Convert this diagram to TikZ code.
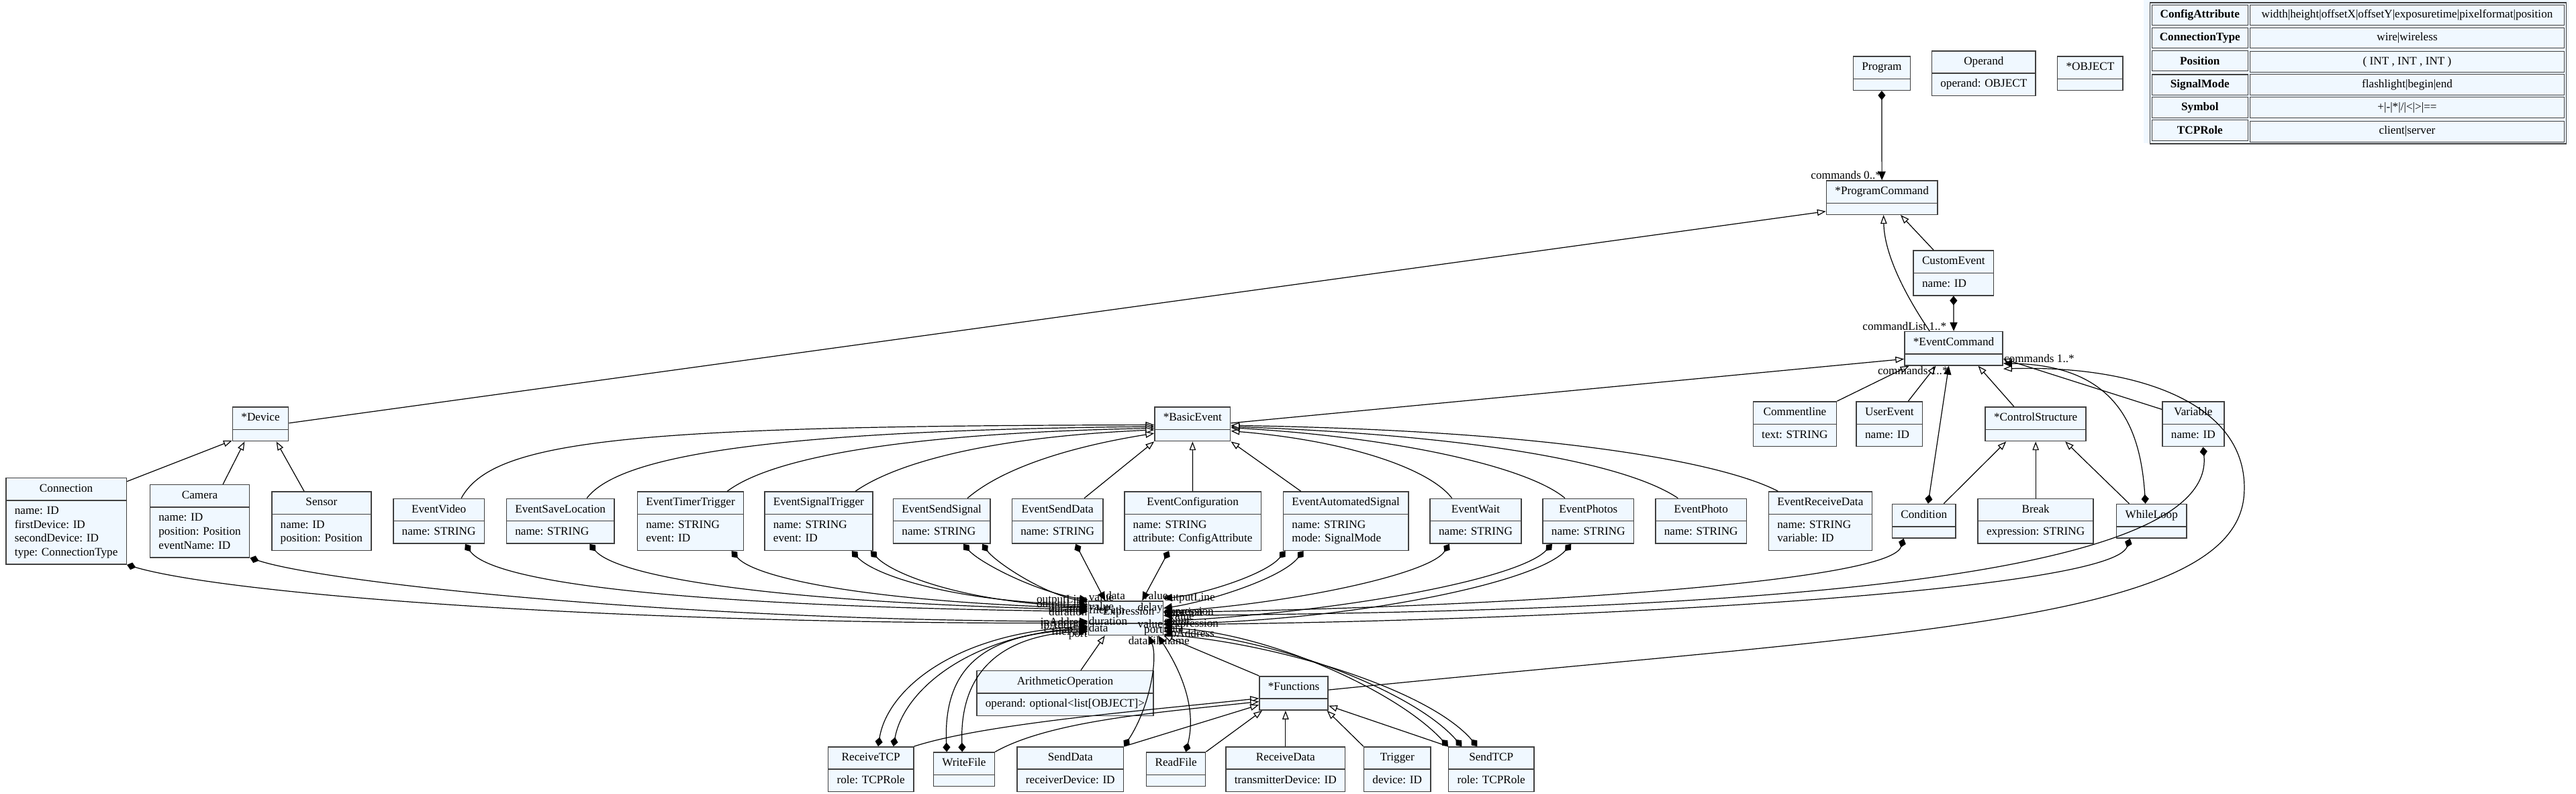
\documentclass[tikz,border=0pt]{standalone}
\usepackage{fontspec}
\setmainfont{Liberation Serif}
\usetikzlibrary{shapes,arrows.meta,positioning,calc,matrix}

\definecolor{clsfill}{HTML}{F0F8FF}
\newcommand{\umlcls}[2]{\strut #1\nodepart{two}\begin{tabular}{@{}l@{}}#2\end{tabular}}

\begin{document}
\begin{tikzpicture}[x=0.05cm, y=-0.05cm, font=\fontsize{10}{12}\selectfont,
    cls/.style={rectangle split, rectangle split parts=2, draw=black!75, line width=0.9pt, fill=clsfill,
        inner xsep=7.5pt, inner ysep=3.25pt, rectangle split part align={center,left}},
    inh/.style={line width=0.7pt, -{Triangle[length=7.5pt,width=5.5pt,fill=white]}},
    comp/.style={line width=0.7pt, {Diamond[length=8pt,width=6.5pt]}-{Triangle[length=7.5pt,width=6.5pt]}},
    lbl/.style={inner sep=0.3pt}]
    \useasboundingbox (0,0) rectangle (1568,483);

    % Enumerations
    \fill[clsfill] (1304.7,0) rectangle (1563.4,87.2);
    \matrix (enums) at (1435.3,44.6) [matrix of nodes, draw=black!75, line width=0.9pt, inner sep=1.5pt,
        row sep=1.5pt, column sep=1.5pt,
        nodes={draw=black!75, line width=0.6pt, minimum height=0.62cm, inner xsep=2pt, inner ysep=0pt},
        column 1/.style={nodes={minimum width=2.92cm, font=\fontsize{10}{12}\selectfont\bfseries}},
        column 2/.style={nodes={minimum width=9.55cm}}] {
        ConfigAttribute & width|height|offsetX|offsetY|exposuretime|pixelformat|position \\
        ConnectionType & wire|wireless \\
        Position & ( INT , INT , INT ) \\
        SignalMode & flashlight|begin|end \\
        Symbol & +|-|*|/|<|>|== \\
        TCPRole & client|server \\
    };

    % Program level
    \node[cls] (program) at (1145.4,44.6) {\umlcls{Program}{}};
    \node[cls] (operand) at (1207.5,44.6) {\umlcls{Operand}{operand: OBJECT}};
    \node[cls] (object) at (1272.3,44.6) {\umlcls{*OBJECT}{}};
    \node[cls] (progcmd) at (1145.5,120.2) {\umlcls{*ProgramCommand}{}};
    \node[cls] (customevent) at (1189.1,166.1) {\umlcls{CustomEvent}{name: ID}};
    \node[cls] (eventcmd) at (1189.2,212) {\umlcls{*EventCommand}{}};

    % Abstract row
    \node[cls] (device) at (158.6,258) {\umlcls{*Device}{}};
    \node[cls] (basicevent) at (725.9,258) {\umlcls{*BasicEvent}{}};
    \node[cls] (commentline) at (1092.5,258) {\umlcls{Commentline}{text: STRING}};
    \node[cls] (userevent) at (1150.1,258) {\umlcls{UserEvent}{name: ID}};
    \node[cls] (ctrlstruct) at (1239.1,258) {\umlcls{*ControlStructure}{}};
    \node[cls] (variable) at (1335,258) {\umlcls{Variable}{name: ID}};

    % Devices and events
    \node[cls] (connection) at (40.3,317) {\umlcls{Connection}{name: ID\\firstDevice: ID\\secondDevice: ID\\type: ConnectionType}};
    \node[cls] (camera) at (121.6,317) {\umlcls{Camera}{name: ID\\position: Position\\eventName: ID}};
    \node[cls] (sensor) at (195.7,317) {\umlcls{Sensor}{name: ID\\position: Position}};
    \node[cls] (evvideo) at (267.1,317) {\umlcls{EventVideo}{name: STRING}};
    \node[cls] (evsaveloc) at (341.1,317) {\umlcls{EventSaveLocation}{name: STRING}};
    \node[cls] (evtimer) at (420.3,317) {\umlcls{EventTimerTrigger}{name: STRING\\event: ID}};
    \node[cls] (evsigtrig) at (498.3,317) {\umlcls{EventSignalTrigger}{name: STRING\\event: ID}};
    \node[cls] (evsendsig) at (573.2,317) {\umlcls{EventSendSignal}{name: STRING}};
    \node[cls] (evsenddata) at (643.7,317) {\umlcls{EventSendData}{name: STRING}};
    \node[cls] (evconfig) at (726,317) {\umlcls{EventConfiguration}{name: STRING\\attribute: ConfigAttribute}};
    \node[cls] (evautosig) at (819.2,317) {\umlcls{EventAutomatedSignal}{name: STRING\\mode: SignalMode}};
    \node[cls] (evwait) at (898.2,317) {\umlcls{EventWait}{name: STRING}};
    \node[cls] (evphotos) at (966.8,317) {\umlcls{EventPhotos}{name: STRING}};
    \node[cls] (evphoto) at (1035.4,317) {\umlcls{EventPhoto}{name: STRING}};
    \node[cls] (evrecvdata) at (1108,317) {\umlcls{EventReceiveData}{name: STRING\\variable: ID}};
    \node[cls] (condition) at (1171.1,317) {\umlcls{Condition}{}};
    \node[cls] (break) at (1239.1,317) {\umlcls{Break}{expression: STRING}};
    \node[cls] (whileloop) at (1309.6,317) {\umlcls{WhileLoop}{}};

    % Expressions and functions
    \node[cls] (expression) at (685.25,376) {\umlcls{*Expression}{}};
    \node[cls] (arithop) at (648.3,421.7) {\umlcls{ArithmeticOperation}{operand: optional<list[OBJECT]>}};
    \node[cls] (functions) at (787.5,421.7) {\umlcls{*Functions}{}};
    \node[cls] (recvtcp) at (530.1,468) {\umlcls{ReceiveTCP}{role: TCPRole}};
    \node[cls] (writefile) at (586.8,468) {\umlcls{WriteFile}{}};
    \node[cls] (senddata) at (651.5,468) {\umlcls{SendData}{receiverDevice: ID}};
    \node[cls] (readfile) at (715.8,468) {\umlcls{ReadFile}{}};
    \node[cls] (recvdata) at (782.5,468) {\umlcls{ReceiveData}{transmitterDevice: ID}};
    \node[cls] (trigger) at (850.5,468) {\umlcls{Trigger}{device: ID}};
    \node[cls] (sendtcp) at (907.7,468) {\umlcls{SendTCP}{role: TCPRole}};

    % Program commands
    \draw[comp] (program.south) -- (progcmd.north) node[lbl,pos=1,anchor=south east] {commands 0..*};
    \draw[inh] ($(device.north east)+(0,10)$) -- ($(progcmd.north west)+(0,19)$);
    \draw[inh] ($(customevent.north west)+(12.6,0)$) -- ($(progcmd.south east)+(-22.7,0)$);
    \draw[inh] ($(eventcmd.north west)+(15.5,0)$) .. controls (1160,180) and (1147,155) .. ($(progcmd.south)+(1,0)$);
    \draw[comp] (customevent.south) -- (eventcmd.north) node[lbl,pos=1,anchor=south east,shift={(-4,0)}] {commandList 1..*};

    % EventCommand subtypes
    \draw[inh] ($(basicevent.north east)+(0,10)$) -- ($(eventcmd.north west)+(0,17)$);
    \draw[inh] (commentline.north east) -- ($(eventcmd.south west)+(3,0)$);
    \draw[inh] ($(userevent.north east)+(-9,0)$) -- ($(eventcmd.south west)+(19.3,0)$);
    \draw[inh] ($(ctrlstruct.north west)+(17.8,0)$) -- ($(eventcmd.south east)+(-15.3,0)$);
    \draw[inh] ($(variable.north west)+(0,5)$) -- ($(eventcmd.south east)+(0,-4.3)$);
    \draw[inh] ($(functions.east)+(0,-2)$) .. controls (1150,385) and (1362,380) .. (1366,300)
        .. controls (1369,245) and (1300,222) .. ($(eventcmd.north east)+(0,23)$);
    \draw[comp] ($(condition.north)+(2.5,0)$) -- ($(eventcmd.south)+(-3,0)$) node[lbl,pos=1,anchor=north east] {commands 1..*};
    \draw[comp] ($(whileloop.north)+(-3.7,0)$) .. controls (1303,262) and (1290,222) .. ($(eventcmd.north east)+(0,19.7)$)
        node[lbl,pos=1,anchor=south west] {commands 1..*};

    % ControlStructure subtypes
    \draw[inh] ($(condition.north east)+(-7.6,0)$) -- ($(ctrlstruct.south west)+(13,0)$);
    \draw[inh] (break.north) -- (ctrlstruct.south);
    \draw[inh] ($(whileloop.north west)+(8,0)$) -- ($(ctrlstruct.south east)+(-13,0)$);

    % Device subtypes
    \draw[inh] ($(connection.north east)+(0,2.5)$) -- ($(device.north west)+(0,20.6)$);
    \draw[inh] ($(camera.north west)+(44.7,0)$) -- ($(device.south west)+(7.6,0)$);
    \draw[inh] ($(sensor.north west)+(20,0)$) -- ($(device.south east)+(-7.7,0)$);

    % BasicEvent subtypes
    \draw[inh] ($(evvideo.north)+(13.7,0)$) .. controls (300,268) and (380,259) .. ($(basicevent.west)+(0,0.5)$);
    \draw[inh] ($(evsaveloc.north)+(16.1,0)$) .. controls (375,280) and (450,262) .. ($(basicevent.west)+(0,1.5)$);
    \draw[inh] ($(evtimer.north)+(22.4,0)$) .. controls (465,282) and (530,264) .. ($(basicevent.west)+(0,2.5)$);
    \draw[inh] ($(evsigtrig.north)+(22.4,0)$) .. controls (545,282) and (600,266) .. ($(basicevent.west)+(0,3.5)$);
    \draw[inh] ($(evsendsig.north)+(15.7,0)$) .. controls (610,285) and (650,272) .. ($(basicevent.west)+(0,5.6)$);
    \draw[inh] ($(evsenddata.north)+(16.3,0)$) -- (basicevent.south west);
    \draw[inh] (evconfig.north) -- (basicevent.south);
    \draw[inh] ($(evautosig.north west)+(11,0)$) -- (basicevent.south east);
    \draw[inh] ($(evwait.north west)+(13.6,0)$) .. controls (870,285) and (820,268) .. ($(basicevent.east)+(0,4.2)$);
    \draw[inh] ($(evphotos.north west)+(13.8,0)$) .. controls (930,284) and (850,266) .. ($(basicevent.east)+(0,2.2)$);
    \draw[inh] ($(evphoto.north west)+(14,0)$) .. controls (990,282) and (900,265) .. ($(basicevent.east)+(0,1.5)$);
    \draw[inh] ($(evrecvdata.north west)+(6,0)$) .. controls (1050,282) and (950,262) .. ($(basicevent.east)+(0,0.8)$);

    % Expression parts, left side
    \draw[comp] (connection.south east) .. controls (140,362) and (380,380) .. ($(expression.west)+(0,3)$) node[lbl,pos=1,anchor=east] {ipAddress};
    \draw[comp] (camera.south east) .. controls (200,355) and (420,378) .. ($(expression.west)+(0,2)$) node[lbl,pos=1,anchor=west] {duration};
    \draw[comp] ($(evvideo.south east)+(-12,0)$) .. controls (300,355) and (420,369) .. ($(expression.west)+(0,-4)$) node[lbl,pos=1,anchor=east] {duration};
    \draw[comp] ($(evsaveloc.south east)+(-15.3,0)$) .. controls (375,350) and (460,366) .. ($(expression.west)+(0,-5)$) node[lbl,pos=1,anchor=west] {filePath};
    \draw[comp] ($(evtimer.south east)+(-7.7,0)$) .. controls (460,352) and (530,366) .. ($(expression.west)+(0,-6)$) node[lbl,pos=1,anchor=east] {duration};
    \draw[comp] ($(evsigtrig.south east)+(-13,0)$) .. controls (532,350) and (580,366) .. ($(expression.west)+(0,-8)$) node[lbl,pos=1,anchor=east] {outputLine};
    \draw[comp] ($(evsigtrig.south east)+(-1.5,0)$) .. controls (544,350) and (590,367) .. ($(expression.west)+(0,-7)$) node[lbl,pos=1,anchor=west] {value};
    \draw[comp] ($(evsendsig.south east)+(-16.6,0)$) .. controls (596,342) and (630,360) .. ($(expression.west)+(0,-11)$) node[lbl,pos=1,anchor=east] {outputLine};
    \draw[comp] ($(evsendsig.south east)+(-5.1,0)$) .. controls (606,342) and (636,362) .. ($(expression.west)+(0,-10)$) node[lbl,pos=1,anchor=south west] {value};
    \draw[comp] ($(recvtcp.north west)+(30.7,0)$) .. controls (540,420) and (580,385) .. ($(expression.west)+(0,5)$) node[lbl,pos=1,anchor=east] {ipAddress};
    \draw[comp] ($(recvtcp.north west)+(40,0)$) .. controls (550,420) and (590,386) .. ($(expression.west)+(0,6)$) node[lbl,pos=1,anchor=west] {data};
    \draw[comp] ($(writefile.north west)+(8.4,0)$) .. controls (574,405) and (600,385) .. ($(expression.west)+(0,7)$) node[lbl,pos=1,anchor=north east] {port};
    \draw[comp] ($(writefile.north west)+(17.8,0)$) .. controls (584,408) and (610,386) .. ($(expression.west)+(0,8)$) node[lbl,pos=1,anchor=east] {filePath};

    % Expression parts, top and bottom
    \draw[comp] ($(evsenddata.south east)+(-17,0)$) -- ($(expression.north west)+(10.4,0)$) node[lbl,pos=1,anchor=south west] {data};
    \draw[comp] ($(evconfig.south)+(-14.5,0)$) -- ($(expression.north east)+(-13,0)$) node[lbl,pos=1,anchor=south west] {value};
    \draw[comp] (senddata.north east) .. controls (700,430) and (705,400) .. ($(expression.south)+(13.75,0)$) node[lbl,pos=1,anchor=north east] {data};
    \draw[comp] ($(readfile.north)+(6,0)$) .. controls (730,425) and (712,398) .. ($(expression.south)+(19.75,0)$) node[lbl,pos=1,anchor=north west,shift={(-6,0)}] {filename};

    % Expression parts, right side
    \draw[comp] ($(evautosig.south west)+(1.6,0)$) .. controls (770,350) and (730,362) .. ($(expression.east)+(0,-12)$) node[lbl,pos=1,anchor=west] {outputLine};
    \draw[comp] ($(evautosig.south west)+(12.6,0)$) .. controls (780,352) and (735,366) .. ($(expression.east)+(0,-6)$) node[lbl,pos=1,anchor=east] {delay};
    \draw[comp] ($(evwait.south west)+(12,0)$) .. controls (870,350) and (780,368) .. ($(expression.east)+(0,-4)$) node[lbl,pos=1,anchor=west] {duration};
    \draw[comp] ($(condition.south west)+(7.3,0)$) .. controls (1150,355) and (900,370) .. ($(expression.east)+(0,-3.5)$) node[lbl,pos=1,anchor=west] {expression};
    \draw[comp] ($(variable.south)+(6,0)$) .. controls (1350,360) and (1000,372) .. ($(expression.east)+(0,-1.5)$) node[lbl,pos=1,anchor=west,shift={(3,0)}] {value};
    \draw[comp] ($(evphotos.south west)+(6,0)$) .. controls (925,352) and (820,372) .. ($(expression.east)+(0,2)$) node[lbl,pos=1,anchor=west] {count};
    \draw[comp] ($(whileloop.south west)+(8.5,0)$) .. controls (1285,360) and (950,378) .. ($(expression.east)+(0,4)$) node[lbl,pos=1,anchor=west,shift={(3,0)}] {expression};
    \draw[comp] ($(evphotos.south west)+(17.6,0)$) .. controls (935,355) and (820,378) .. ($(expression.east)+(0,3.5)$) node[lbl,pos=1,anchor=east] {value};
    \draw[comp] (sendtcp.north west) .. controls (850,420) and (770,384) .. ($(expression.east)+(0,6)$) node[lbl,pos=1,anchor=west] {data};
    \draw[comp] ($(sendtcp.north west)+(8.4,0)$) .. controls (860,420) and (775,388) .. ($(expression.east)+(0,8)$) node[lbl,pos=1,anchor=east] {port};
    \draw[comp] ($(sendtcp.north west)+(17.8,0)$) .. controls (870,420) and (780,392) .. ($(expression.east)+(0,10)$) node[lbl,pos=1,anchor=west,shift={(2,0)}] {ipAddress};

    % Expression subtypes
    \draw[inh] ($(arithop.north)+(9.6,0)$) -- ($(expression.south)+(-12.7,0)$);
    \draw[inh] (functions.north west) -- (expression.south east);

    % Functions subtypes
    \draw[inh] (recvtcp.north east) .. controls (600,440) and (700,432) .. ($(functions.south west)+(0,-7.5)$);
    \draw[inh] (writefile.north east) .. controls (640,438) and (710,433) .. ($(functions.south west)+(0,-5.5)$);
    \draw[inh] (senddata.north east) -- ($(functions.south west)+(0,-3.5)$);
    \draw[inh] (readfile.north east) -- ($(functions.south west)+(2,0)$);
    \draw[inh] (recvdata.north) -- (recvdata.north |- functions.south);
    \draw[inh] (trigger.north west) -- ($(functions.south east)+(-1,0)$);
    \draw[inh] (sendtcp.north west) -- ($(functions.south east)+(0,-3)$);
\end{tikzpicture}
\end{document}
